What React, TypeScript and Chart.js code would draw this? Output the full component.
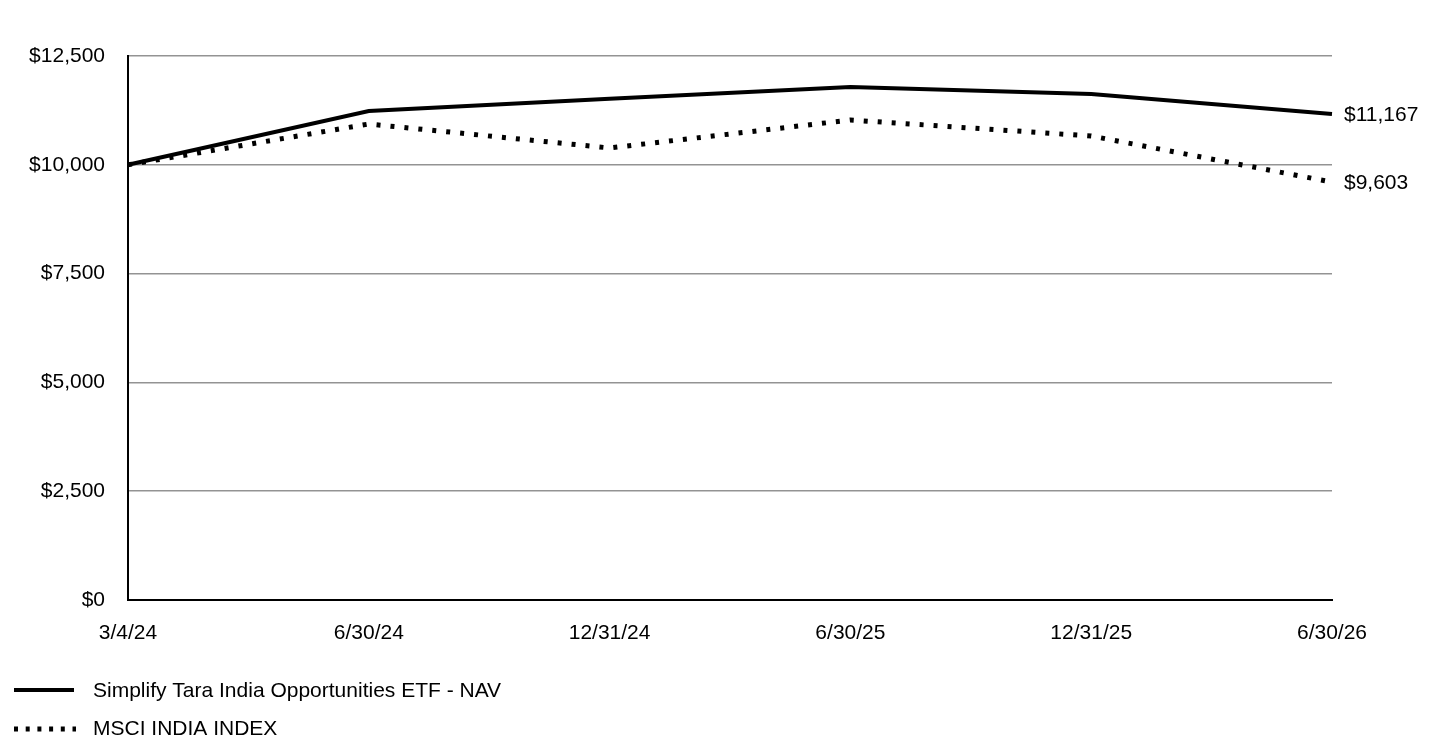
import { useEffect, useRef } from 'react'
import { Chart, registerables } from 'chart.js'

Chart.register(...registerables)

const FONT = '"Liberation Sans", Arial, sans-serif'

const DATES = ['3/4/24', '6/30/24', '12/31/24', '6/30/25', '12/31/25', '6/30/26']
const FUND_VALUES = [10000, 11236, 11515, 11788, 11627, 11167]
const INDEX_VALUES = [10000, 10938, 10386, 11029, 10662, 9603]
const FUND_LABEL = 'Simplify Tara India Opportunities ETF - NAV'
const INDEX_LABEL = 'MSCI INDIA INDEX'

const money = (v: number) => '$' + v.toLocaleString('en-US')

// value labels next to the last point of each line
const endLabels = {
  id: 'endLabels',
  afterDatasetsDraw(chart: Chart) {
    const ctx = chart.ctx
    ctx.save()
    ctx.font = `21px ${FONT}`
    ctx.fillStyle = '#000'
    ctx.textAlign = 'left'
    ctx.textBaseline = 'middle'
    chart.data.datasets.forEach((ds, i) => {
      const meta = chart.getDatasetMeta(i)
      const last = meta.data[meta.data.length - 1]
      const v = ds.data[ds.data.length - 1] as number
      ctx.fillText(money(v), last.x + 12, last.y + 1)
    })
    ctx.restore()
  },
}

// legend at bottom-left
const bottomLegend = {
  id: 'bottomLegend',
  afterDraw(chart: Chart) {
    const ctx = chart.ctx
    ctx.save()
    ctx.strokeStyle = '#000'
    ctx.lineCap = 'butt'

    ctx.lineWidth = 4
    ctx.setLineDash([])
    ctx.beginPath()
    ctx.moveTo(14, 690)
    ctx.lineTo(74, 690)
    ctx.stroke()

    ctx.lineWidth = 5
    ctx.setLineDash([4, 7.7])
    ctx.beginPath()
    ctx.moveTo(14, 729)
    ctx.lineTo(76, 729)
    ctx.stroke()

    ctx.font = `21px ${FONT}`
    ctx.fillStyle = '#000'
    ctx.textBaseline = 'middle'
    ctx.fillText(FUND_LABEL, 93, 691)
    ctx.fillText(INDEX_LABEL, 93, 729)
    ctx.restore()
  },
}

export default function App() {
  const canvasRef = useRef<HTMLCanvasElement>(null)

  useEffect(() => {
    if (!canvasRef.current) return
    const chart = new Chart(canvasRef.current, {
      type: 'line',
      data: {
        labels: DATES,
        datasets: [
          {
            label: FUND_LABEL,
            data: FUND_VALUES,
            borderColor: '#000',
            borderWidth: 4,
            pointRadius: 0,
            tension: 0,
          },
          {
            label: INDEX_LABEL,
            data: INDEX_VALUES,
            borderColor: '#000',
            borderWidth: 5,
            borderDash: [4, 10],
            borderCapStyle: 'butt',
            pointRadius: 0,
            tension: 0,
          },
        ],
      },
      options: {
        animation: false,
        responsive: true,
        maintainAspectRatio: false,
        layout: { padding: { top: 56, right: 108, left: 0, bottom: 0 } },
        plugins: {
          legend: { display: false },
          tooltip: { enabled: false },
        },
        scales: {
          x: {
            offset: false,
            grid: { display: false, drawTicks: false },
            border: { display: true, color: '#000', width: 2 },
            ticks: {
              color: '#000',
              font: { family: FONT, size: 21 },
              padding: 21,
              maxRotation: 0,
              autoSkip: false,
            },
            afterFit: (scale) => {
              scale.height = 144
            },
          },
          y: {
            min: 0,
            max: 12500,
            grid: { color: '#939393', lineWidth: 1.5, drawTicks: false },
            border: { display: true, color: '#000', width: 2 },
            ticks: {
              stepSize: 2500,
              color: '#000',
              font: { family: FONT, size: 21 },
              padding: 23,
              callback: (v) => money(Number(v)),
            },
            afterFit: (scale) => {
              scale.width = 128
            },
          },
        },
      },
      plugins: [endLabels, bottomLegend],
    })
    return () => chart.destroy()
  }, [])

  return (
    <div
      style={{
        position: 'fixed',
        top: 0,
        left: 0,
        width: 1440,
        height: 744,
        background: '#fff',
      }}
    >
      <canvas ref={canvasRef} />
    </div>
  )
}
